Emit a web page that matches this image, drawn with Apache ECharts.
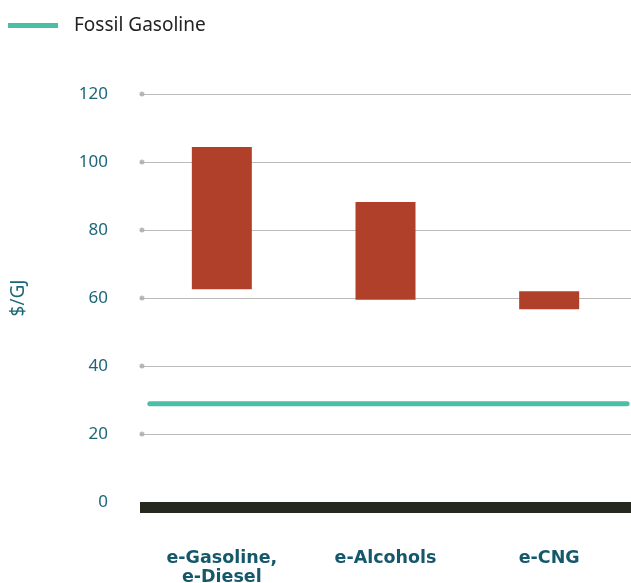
<!DOCTYPE html>
<html><head><meta charset="utf-8">
<script src="https://cdn.jsdelivr.net/npm/echarts@6/dist/echarts.min.js"></script>
<style>html,body{margin:0;padding:0;background:#fff}#c{width:631px;height:583px}</style>
</head><body><div id="c"></div>
<script>
var categories = ['e-Gasoline,\ne-Diesel', 'e-Alcohols', 'e-CNG'];
var lowValues = [62.6, 59.5, 56.7];
var highValues = [104.4, 88.2, 62.0];
var fossilGasoline = 28.9;
var yTicks = [0, 20, 40, 60, 80, 100, 120];

var chart = echarts.init(document.getElementById('c'));
var spans = highValues.map(function (h, i) { return +(h - lowValues[i]).toFixed(2); });
var teal = '#4bbfa5';
var labelColor = '#1b6678';
chart.setOption({
  animation: false,
  grid: { left: 140, right: 0, top: 94, bottom: 81, outerBoundsMode: 'none', containLabel: false },
  legend: {
    data: ['Fossil Gasoline'], left: 3, top: 11,
    icon: 'rect', itemWidth: 50, itemHeight: 5,
    textStyle: { fontFamily: 'Noto Sans', fontSize: 19, color: '#222', padding: [0, 0, 0, 11] }
  },
  xAxis: [{
    type: 'category', data: categories, offset: 5.5,
    axisLine: { onZero: false, lineStyle: { color: '#262a1e', width: 11, cap: 'butt' } },
    axisTick: { show: false },
    axisLabel: { margin: 41, fontFamily: 'DejaVu Sans', fontWeight: 'bold', fontSize: 17.5, color: '#16586b', lineHeight: 19 }
  }, {
    type: 'value', min: 0, max: 1, show: false
  }],
  yAxis: {
    type: 'value', min: 0, max: 120, interval: 20,
    name: '$/GJ', nameLocation: 'middle', nameGap: 112, nameRotate: 90,
    nameTextStyle: { fontFamily: 'Noto Sans', fontSize: 19, color: labelColor },
    axisLine: { show: false }, axisTick: { show: false },
    axisLabel: { margin: 32, fontFamily: 'Noto Sans', fontSize: 17, color: labelColor },
    splitLine: { lineStyle: { color: '#bbbbbb', width: 1 } }
  },
  series: [
    { type: 'bar', stack: 'r', data: lowValues, barWidth: 60, itemStyle: { color: 'transparent' }, silent: true },
    { type: 'bar', stack: 'r', data: spans, barWidth: 60, itemStyle: { color: '#b04029' } },
    { type: 'scatter', xAxisIndex: 1, data: yTicks.filter(function (t) { return t > 0; }).map(function (t) { return [0.004, t]; }),
      symbolSize: 5, itemStyle: { color: '#aaaaaa' }, silent: true },
    { name: 'Fossil Gasoline', type: 'line', xAxisIndex: 1, data: [[0.02, fossilGasoline], [0.992, fossilGasoline]],
      symbol: 'none', lineStyle: { color: teal, width: 5, cap: 'round' }, itemStyle: { color: teal } }
  ]
});
</script></body></html>
